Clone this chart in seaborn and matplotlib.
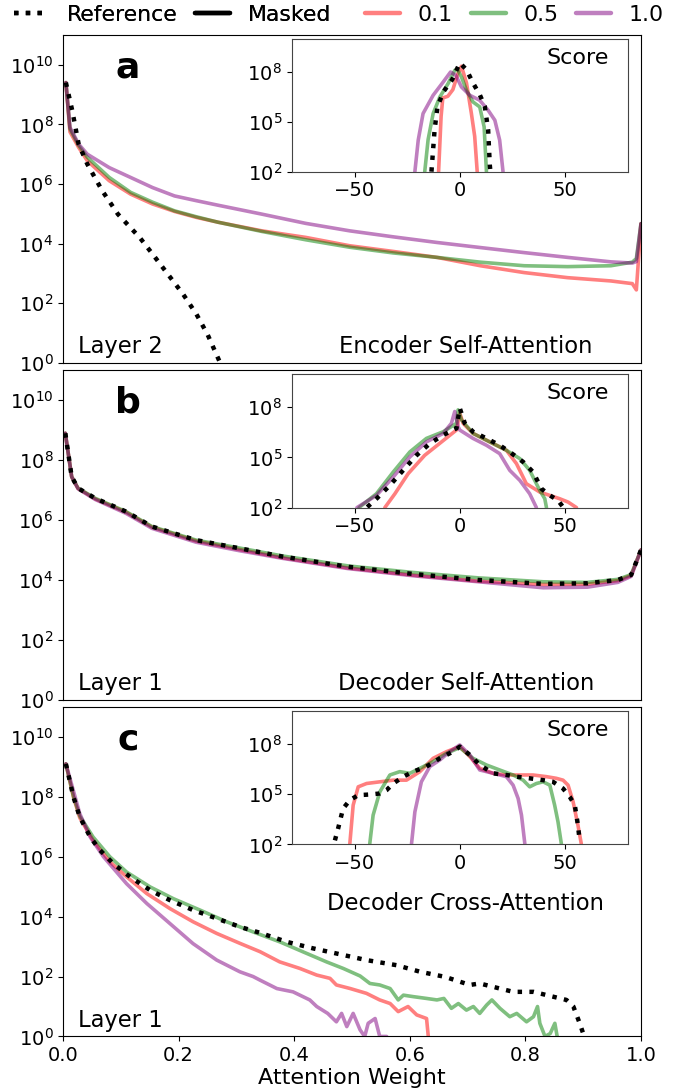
import numpy as np
import matplotlib
matplotlib.use("Agg")
import matplotlib.pyplot as plt
from matplotlib.lines import Line2D
import seaborn as sns

# ---------------- data (log10 of counts) ----------------
# Panel a: encoder self-attention, layer 2 (attention weight histograms)
ENC_REF_W = [0.005, 0.016, 0.027, 0.042, 0.068, 0.095, 0.133, 0.155, 0.186, 0.208, 0.231, 0.25, 0.272]
ENC_REF_LOG = [9.40, 8.46, 7.34, 6.67, 5.77, 4.99, 4.20, 3.65, 2.86, 2.30, 1.63, 0.96, 0.0]

ENC_W = [0.005, 0.012, 0.027, 0.042, 0.08, 0.117, 0.155, 0.193, 0.231, 0.268, 0.344, 0.42,
         0.496, 0.571, 0.647, 0.722, 0.798, 0.873, 0.948, 0.985, 0.992, 1.0]
ENC_R01 = [9.40, 7.75, 7.23, 6.78, 6.11, 5.66, 5.33, 5.08, 4.88, 4.72, 4.43, 4.21,
           3.93, 3.74, 3.54, 3.26, 3.03, 2.86, 2.75, 2.66, 2.45, 4.67]
ENC_R05 = [9.40, 7.85, 7.30, 6.90, 6.22, 5.72, 5.39, 5.10, 4.90, 4.72, 4.41, 4.13,
           3.88, 3.69, 3.54, 3.38, 3.26, 3.23, 3.26, 3.38, 3.50, 4.67]
ENC_R10 = [9.40, 7.90, 7.34, 7.00, 6.55, 6.22, 5.88, 5.60, 5.44, 5.29, 4.99, 4.68,
           4.43, 4.23, 4.04, 3.87, 3.70, 3.54, 3.39, 3.35, 3.40, 4.67]

# Panel b: decoder self-attention, layer 1
DSA_W = [0.004, 0.015, 0.026, 0.056, 0.109, 0.154, 0.23, 0.304, 0.38, 0.493, 0.606,
         0.719, 0.831, 0.907, 0.96, 0.983, 1.0]
DSA_REF = [8.89, 7.44, 7.06, 6.72, 6.28, 5.78, 5.33, 5.06, 4.78, 4.44, 4.20, 4.00, 3.87, 3.89, 4.00, 4.17, 5.00]
DSA_R01 = [8.89, 7.44, 7.05, 6.70, 6.26, 5.76, 5.30, 5.02, 4.74, 4.40, 4.16, 3.96, 3.85, 3.86, 3.98, 4.15, 5.00]
DSA_R05 = [8.89, 7.44, 7.06, 6.72, 6.28, 5.78, 5.33, 5.07, 4.80, 4.47, 4.25, 4.07, 3.94, 3.92, 4.02, 4.18, 5.00]
DSA_R10 = [8.89, 7.44, 7.04, 6.68, 6.22, 5.72, 5.26, 4.98, 4.72, 4.38, 4.14, 3.94, 3.74, 3.76, 3.92, 4.12, 5.00]

# Panel c: decoder cross-attention, layer 1
DCA_REF_W = [0.005, 0.018, 0.029, 0.047, 0.064, 0.087, 0.116, 0.151, 0.185, 0.225, 0.266, 0.306,
             0.341, 0.387, 0.433, 0.485, 0.525, 0.577, 0.618, 0.661, 0.704, 0.721, 0.756, 0.779,
             0.814, 0.837, 0.871, 0.883, 0.894, 0.900, 0.903]
DCA_REF = [9.10, 8.00, 7.33, 6.66, 6.22, 5.77, 5.33, 4.88, 4.55, 4.22, 3.94, 3.66,
           3.46, 3.16, 2.94, 2.72, 2.55, 2.38, 2.16, 1.99, 1.72, 1.77, 1.60, 1.49,
           1.49, 1.38, 1.22, 1.00, 0.44, 0.10, 0.0]
DCA_R01_W = [0.005, 0.018, 0.029, 0.052, 0.081, 0.11, 0.145, 0.185, 0.225, 0.266, 0.306, 0.341,
             0.375, 0.41, 0.439, 0.462, 0.473, 0.497, 0.525, 0.548, 0.566, 0.58, 0.597, 0.612,
             0.629, 0.632]
DCA_R01 = [9.10, 8.00, 7.30, 6.55, 5.83, 5.33, 4.77, 4.27, 3.83, 3.44, 3.11, 2.83,
           2.49, 2.27, 2.05, 1.94, 1.72, 1.60, 1.44, 1.22, 1.10, 0.83, 1.00, 0.72,
           0.60, 0.0]
DCA_R05_W = [0.005, 0.018, 0.029, 0.052, 0.081, 0.11, 0.151, 0.191, 0.237, 0.283, 0.329, 0.375,
             0.422, 0.456, 0.485, 0.514, 0.531, 0.548, 0.566, 0.58, 0.589, 0.606, 0.629, 0.647,
             0.659, 0.672, 0.684, 0.698, 0.71, 0.721, 0.733, 0.742, 0.756, 0.773, 0.785, 0.802,
             0.814, 0.821, 0.825, 0.834, 0.843, 0.851, 0.855]
DCA_R05 = [9.10, 8.02, 7.36, 6.66, 6.00, 5.49, 4.99, 4.60, 4.22, 3.83, 3.49, 3.16,
           2.77, 2.49, 2.27, 2.02, 1.77, 1.72, 1.60, 1.22, 1.38, 1.33, 1.27, 1.22,
           1.27, 0.94, 1.10, 0.88, 1.00, 0.77, 1.05, 1.22, 0.94, 0.66, 0.77, 0.49,
           0.66, 1.00, 0.44, 0.0, 0.10, 0.44, 0.0]
DCA_R10_W = [0.005, 0.029, 0.047, 0.07, 0.11, 0.145, 0.185, 0.225, 0.266, 0.306, 0.329, 0.341,
             0.37, 0.398, 0.427, 0.439, 0.458, 0.473, 0.482, 0.491, 0.502, 0.514, 0.522, 0.528,
             0.54, 0.548, 0.56]
DCA_R10 = [9.10, 7.44, 6.66, 6.00, 5.10, 4.44, 3.77, 3.10, 2.55, 2.16, 2.00, 1.88,
           1.60, 1.49, 1.22, 1.00, 0.77, 0.49, 0.77, 0.33, 0.77, 0.22, 0.0, 0.44,
           0.60, 0.0, 0.0]

# Insets: pre-softmax score histograms
ENC_S_REF = [-13.5, -12.0, -10.6, -7.6, -3.6, 0.0, 3.2, 6.3, 9.5, 11.9, 13.5, 14.3, 14.6]
ENC_S_REF_LOG = [2.0, 4.53, 5.94, 6.85, 7.55, 8.55, 8.14, 7.34, 6.64, 5.94, 4.53, 2.4, 2.0]
ENC_S_R01 = [-10.1, -8.9, -8.1, -5.7, -3.3, -0.8, 0.8, 3.2, 5.5, 7.1, 8.3]
ENC_S_R01_LOG = [2.0, 5.33, 6.44, 6.54, 6.94, 7.95, 8.35, 7.34, 5.53, 4.13, 2.0]
ENC_S_R05 = [-16.7, -15.1, -12.7, -9.5, -5.6, -2.4, -1.3, 0.8, 3.2, 6.3, 9.5, 11.6, 12.7]
ENC_S_R05_LOG = [2.0, 3.93, 5.5, 6.5, 7.3, 8.1, 8.2, 7.7, 6.9, 6.2, 5.9, 4.7, 2.0]
ENC_S_R10 = [-21.4, -19.8, -17.5, -12.7, -7.9, -4.4, -1.9, 0.8, 4.8, 9.5, 13.5, 16.7, 19.0, 20.6]
ENC_S_R10_LOG = [2.0, 3.9, 5.5, 6.6, 7.4, 8.0, 7.8, 7.1, 6.6, 6.3, 5.7, 5.1, 3.9, 2.0]

DSA_S_REF = [-44.1, -39.7, -33.3, -27.0, -20.6, -14.3, -7.9, -1.6, 0.0, 2.4, 6.3, 12.7, 19.0,
             23.8, 30.2, 34.9, 38.9, 42.9, 46.8, 49.2]
DSA_S_REF_LOG = [2.03, 2.53, 3.33, 4.23, 5.13, 5.83, 6.34, 6.74, 7.95, 7.04, 6.54, 6.14, 5.73,
                 5.33, 4.73, 4.13, 3.13, 2.73, 2.43, 2.03]
DSA_S_R01 = [-35.7, -30.9, -24.6, -16.7, -8.7, -1.6, 0.0, 1.6, 6.3, 14.3, 22.2, 27.0, 31.7,
             38.1, 47.6, 51.6, 55.6]
DSA_S_R01_LOG = [2.0, 2.83, 4.03, 5.13, 5.93, 6.64, 7.65, 7.04, 6.44, 5.93, 5.43, 4.63, 3.43,
                 2.93, 2.53, 2.33, 2.0]
DSA_S_R05 = [-48.0, -39.7, -31.7, -23.8, -15.9, -7.9, -1.6, -0.8, 0.8, 6.3, 14.3, 22.2, 28.6,
             33.3, 38.1, 40.5, 41.3]
DSA_S_R05_LOG = [2.0, 2.83, 4.13, 5.33, 6.14, 6.54, 7.04, 7.85, 7.25, 6.44, 5.93, 5.43, 4.93,
                 4.23, 3.03, 2.53, 2.0]
DSA_S_R10 = [-49.0, -39.7, -31.7, -23.8, -15.9, -7.9, -4.0, -2.4, -0.8, 0.0, 6.3, 12.7, 19.0,
             23.8, 28.6, 33.3, 36.5]
DSA_S_R10_LOG = [2.0, 2.73, 3.83, 5.03, 5.93, 6.44, 7.04, 7.75, 6.84, 6.64, 6.14, 5.73, 5.23,
                 4.23, 3.63, 2.83, 2.0]

DCA_S_REF = [-59.5, -58.0, -55.6, -52.4, -48.4, -42.9, -38.1, -34.9, -31.7, -27.0, -22.2, -15.9,
             -9.5, -3.2, 0.0, 4.8, 9.5, 15.9, 22.2, 27.0, 33.3, 39.7, 44.4, 49.2, 52.4, 54.8,
             56.3, 57.1]
DCA_S_REF_LOG = [2.24, 2.94, 4.15, 4.65, 4.95, 4.99, 5.05, 5.25, 5.65, 6.05, 6.36, 6.66,
                 7.16, 7.56, 7.86, 7.36, 6.76, 6.26, 6.16, 6.06, 5.96, 5.85, 5.75, 5.35, 4.85,
                 4.35, 3.15, 2.24]
DCA_S_R01 = [-52.4, -50.8, -48.4, -44.4, -38.1, -31.7, -25.4, -19.0, -12.7, -6.3, 0.0, 4.8,
             9.5, 15.9, 22.2, 28.6, 34.9, 41.3, 46.0, 49.2, 51.6, 54.0, 56.3, 57.9]
DCA_S_R01_LOG = [2.03, 4.35, 5.45, 5.65, 5.75, 5.85, 5.85, 6.36, 7.16, 7.56, 7.86, 7.26,
                 6.56, 6.26, 6.16, 6.16, 6.16, 6.06, 5.96, 5.85, 5.55, 4.55, 3.15, 2.03]
DCA_S_R05 = [-42.9, -41.3, -38.1, -33.3, -28.6, -23.8, -19.0, -12.7, -6.3, 0.0, 6.3, 12.7,
             19.0, 25.4, 30.2, 33.3, 36.5, 39.7, 42.9, 45.2, 46.8, 48.4]
DCA_S_R05_LOG = [2.03, 3.75, 5.15, 6.16, 6.36, 6.26, 6.56, 6.96, 7.46, 7.80, 7.16, 6.76,
                 6.46, 6.16, 5.85, 5.45, 5.65, 5.75, 5.55, 4.35, 3.35, 2.03]
DCA_S_R10 = [-23.0, -21.4, -18.3, -14.3, -9.5, -4.8, 0.0, 4.8, 9.5, 15.9, 22.2, 25.4, 27.8,
             29.4, 31.0]
DCA_S_R10_LOG = [2.03, 3.95, 5.75, 6.66, 7.06, 7.56, 7.96, 7.36, 6.46, 6.26, 6.06, 5.55, 4.75,
                 3.75, 2.03]

PANEL_LETTERS = ["a", "b", "c"]
LAYER_LABELS = ["Layer 2", "Layer 1", "Layer 1"]
PANEL_TITLES = ["Encoder Self-Attention", "Decoder Self-Attention", "Decoder Cross-Attention"]
RATIO_LABELS = ["0.1", "0.5", "1.0"]

# ---------------- style ----------------
sns.set_style("ticks", {"axes.edgecolor": "black", "xtick.color": "black",
                        "ytick.color": "black", "text.color": "black",
                        "axes.labelcolor": "black"})
plt.rcParams["font.family"] = ["DejaVu Sans"]

RATIO_COLORS = ["red", "green", "purple"]
ALPHA = 0.5
LW = 2.6
REF_LW = 3.2

fig = plt.figure(figsize=(6.76, 10.90), dpi=100)

main_rects = [
    [0.0932, 0.6670, 0.8550, 0.3010],
    [0.0932, 0.3578, 0.8550, 0.3028],
    [0.0932, 0.0491, 0.8550, 0.3023],
]

main_data = [
    (ENC_REF_W, ENC_REF_LOG, [(ENC_W, ENC_R01), (ENC_W, ENC_R05), (ENC_W, ENC_R10)]),
    (DSA_W, DSA_REF, [(DSA_W, DSA_R01), (DSA_W, DSA_R05), (DSA_W, DSA_R10)]),
    (DCA_REF_W, DCA_REF, [(DCA_R01_W, DCA_R01), (DCA_R05_W, DCA_R05), (DCA_R10_W, DCA_R10)]),
]

inset_data = [
    ((ENC_S_REF, ENC_S_REF_LOG), [(ENC_S_R01, ENC_S_R01_LOG), (ENC_S_R05, ENC_S_R05_LOG),
                                  (ENC_S_R10, ENC_S_R10_LOG)]),
    ((DSA_S_REF, DSA_S_REF_LOG), [(DSA_S_R01, DSA_S_R01_LOG), (DSA_S_R05, DSA_S_R05_LOG),
                                  (DSA_S_R10, DSA_S_R10_LOG)]),
    ((DCA_S_REF, DCA_S_REF_LOG), [(DCA_S_R01, DCA_S_R01_LOG), (DCA_S_R05, DCA_S_R05_LOG),
                                  (DCA_S_R10, DCA_S_R10_LOG)]),
]

title_y = [0.05, 0.05, 0.405]

for i in range(3):
    ax = fig.add_axes(main_rects[i])
    ref_w, ref_log, series = main_data[i]
    for (w, lg), col in zip(series, RATIO_COLORS):
        sns.lineplot(x=np.asarray(w), y=10.0 ** np.asarray(lg), ax=ax, color=col,
                     alpha=ALPHA, lw=LW, legend=False, sort=False)
    sns.lineplot(x=np.asarray(ref_w), y=10.0 ** np.asarray(ref_log), ax=ax, color="black",
                 lw=REF_LW, linestyle=":", legend=False, sort=False)
    ax.set_yscale("log")
    ax.set_ylim(1, 1e11)
    ax.set_xlim(0, 1)
    ax.set_yticks([1e0, 1e2, 1e4, 1e6, 1e8, 1e10])
    ax.yaxis.set_minor_locator(matplotlib.ticker.NullLocator())
    ax.tick_params(axis="both", labelsize=14)
    for sp in ax.spines.values():
        sp.set_visible(True)
    if i < 2:
        ax.set_xticks([])
        ax.set_xlabel("")
    else:
        ax.set_xticks([0.0, 0.2, 0.4, 0.6, 0.8, 1.0])
        ax.set_xlabel("Attention Weight", fontsize=16, labelpad=2)
    ax.set_ylabel("")

    ax.text(0.112, 0.90, PANEL_LETTERS[i], transform=ax.transAxes, fontsize=26,
            fontweight="bold", ha="center", va="center")
    ax.text(0.026, 0.05, LAYER_LABELS[i], transform=ax.transAxes, fontsize=16.3,
            ha="left", va="center")
    ax.text(0.697, title_y[i], PANEL_TITLES[i], transform=ax.transAxes, fontsize=16.3,
            ha="center", va="center")

    # inset with score histograms
    ins = ax.inset_axes([0.396, 0.583, 0.581, 0.405])
    (rs, rl), iseries = inset_data[i]
    for (s, lg), col in zip(iseries, RATIO_COLORS):
        sns.lineplot(x=np.asarray(s), y=10.0 ** np.asarray(lg), ax=ins, color=col,
                     alpha=ALPHA, lw=LW, legend=False, sort=False)
    sns.lineplot(x=np.asarray(rs), y=10.0 ** np.asarray(rl), ax=ins, color="black",
                 lw=REF_LW, linestyle=":", legend=False, sort=False)
    ins.set_yscale("log")
    ins.set_ylim(1e2, 1e10)
    ins.set_xlim(-80, 80)
    ins.set_yticks([1e2, 1e5, 1e8])
    ins.yaxis.set_minor_locator(matplotlib.ticker.NullLocator())
    ins.set_xticks([-50, 0, 50])
    ins.tick_params(axis="both", labelsize=14)
    ins.set_xlabel("")
    ins.set_ylabel("")
    for sp in ins.spines.values():
        sp.set_visible(True)
        sp.set_edgecolor("#444444")
    ins.text(0.943, 0.857, "Score", transform=ins.transAxes, fontsize=16,
             ha="right", va="center")

# Two legends across the top: line style and mask ratio
leg_kw = dict(frameon=False, fontsize=15.8, handlelength=1.6, handletextpad=0.8,
              columnspacing=0.82, borderaxespad=0.0, loc="center")
style_handles = [
    Line2D([], [], color="black", lw=REF_LW, linestyle=":"),
    Line2D([], [], color="black", lw=REF_LW),
]
ratio_handles = [Line2D([], [], color=c, lw=LW + 0.6, alpha=ALPHA) for c in RATIO_COLORS]
leg1 = fig.legend(style_handles, ["Reference", "Masked"], ncol=2,
                  bbox_to_anchor=(0.2552, 0.9862), **leg_kw)
fig.add_artist(leg1)
fig.legend(ratio_handles, RATIO_LABELS, ncol=3, bbox_to_anchor=(0.7611, 0.9862), **leg_kw)

fig.savefig("out.png", dpi=100)
